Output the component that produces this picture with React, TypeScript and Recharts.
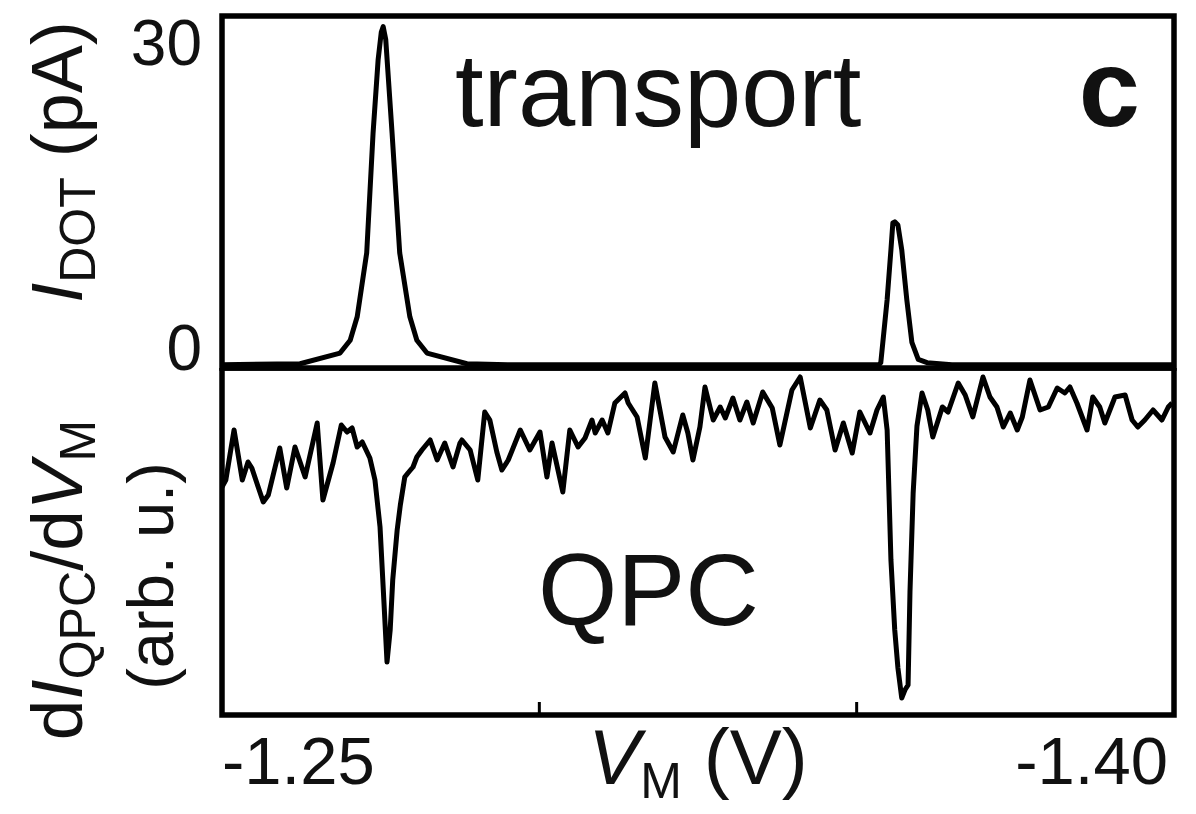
import { LineChart, Line, XAxis, YAxis, ReferenceArea } from 'recharts';

// gate voltage V_M (V), shared by both panels
const vDomain: [number, number] = [-1.4, -1.25];
const vTicks = [-1.25, -1.3, -1.35, -1.4];
const vTickLabels: Record<string, string> = { '-1.25': '-1.25', '-1.4': '-1.40' };

// top panel: dot current (pA)
const iDomain: [number, number] = [-0.3, 32.7];
const iTicks = [0, 30];

const vDot = [
  -1.25, -1.2623, -1.2686, -1.2702, -1.2713, -1.2728, -1.2738, -1.2746, -1.2751, -1.2754,
  -1.2758, -1.2768, -1.278, -1.2796, -1.2807, -1.2823, -1.2886, -1.295, -1.35, -1.3535,
  -1.3538, -1.3548, -1.3554, -1.3557, -1.356, -1.3565, -1.3571, -1.3579, -1.3587, -1.3597,
  -1.3611, -1.365, -1.4,
];
const iDot = [
  0, 0.1, 1.1, 2.3, 4.5, 10.5, 21.7, 28.6, 31.2, 31.7,
  30.5, 21.7, 10.5, 4.5, 2.3, 1.1, 0.1, 0, 0, 0,
  0.2, 6.1, 10.8, 13.3, 13.4, 13.1, 10.8, 6.1, 2.1, 0.5,
  0.2, 0, 0,
];

// bottom panel: dI_QPC/dV_M (arb. u.)
const gDomain: [number, number] = [0, 34.7];

const vQpc = [
  -1.25, -1.2506, -1.2519, -1.2532, -1.2541, -1.2547, -1.2557, -1.2565, -1.2573, -1.2591,
  -1.2602, -1.2615, -1.2631, -1.265, -1.2659, -1.2675, -1.2688, -1.2697, -1.2705, -1.2713,
  -1.2721, -1.2733, -1.2741, -1.2749, -1.2755, -1.276, -1.2765, -1.2769, -1.2776, -1.2781,
  -1.2788, -1.2793, -1.2801, -1.2807, -1.2815, -1.2828, -1.2839, -1.2851, -1.2864, -1.2875,
  -1.2878, -1.2891, -1.2903, -1.2914, -1.2922, -1.2933, -1.2941, -1.2951, -1.297, -1.2985,
  -1.3001, -1.3012, -1.302, -1.3037, -1.3048, -1.3061, -1.3072, -1.3083, -1.3088, -1.3099,
  -1.3108, -1.3119, -1.3135, -1.314, -1.3154, -1.3167, -1.3182, -1.319, -1.3198, -1.3211,
  -1.3226, -1.3234, -1.3242, -1.3253, -1.3261, -1.3274, -1.3285, -1.3293, -1.3305, -1.3316,
  -1.3327, -1.3337, -1.3352, -1.3367, -1.3379, -1.3398, -1.3411, -1.3427, -1.3442, -1.3453,
  -1.3466, -1.3479, -1.3493, -1.3505, -1.3521, -1.3532, -1.3542, -1.3548, -1.3554, -1.356,
  -1.3565, -1.3571, -1.3576, -1.3581, -1.3584, -1.3589, -1.3595, -1.3603, -1.3612, -1.362,
  -1.3635, -1.3644, -1.366, -1.3671, -1.3683, -1.3699, -1.371, -1.3721, -1.3731, -1.3742,
  -1.3753, -1.3761, -1.3773, -1.3789, -1.3802, -1.3816, -1.3828, -1.3836, -1.3847, -1.3863,
  -1.3872, -1.3883, -1.3891, -1.3907, -1.3923, -1.3934, -1.3943, -1.3954, -1.3967, -1.3981,
  -1.3991, -1.3997,
];
const gQpc = [
  22.8, 23.5, 28.5, 23.5, 25.3, 24.7, 22.8, 21.3, 22.0, 26.7,
  22.7, 26.8, 23.8, 29.2, 21.5, 25.2, 29.0, 28.3, 28.7, 26.8,
  27.3, 25.7, 23.5, 18.8, 11.5, 5.3, 8.5, 13.5, 18.5, 21.0,
  23.8, 24.2, 24.8, 25.8, 26.5, 27.5, 25.5, 27.2, 24.8, 27.2,
  27.5, 26.5, 23.5, 30.3, 29.5, 26.3, 24.5, 25.5, 28.5, 26.5,
  28.3, 23.8, 27.2, 22.3, 28.5, 26.8, 27.7, 29.5, 28.2, 29.5,
  28.2, 31.2, 32.2, 31.2, 29.8, 25.7, 33.2, 30.5, 27.8, 26.3,
  30.0, 28.2, 25.5, 28.8, 32.8, 29.5, 30.8, 29.7, 31.7, 29.5,
  31.3, 29.2, 32.3, 30.7, 27.0, 32.5, 33.8, 28.7, 31.5, 30.5,
  26.5, 29.2, 26.2, 30.3, 28.2, 30.5, 31.8, 28.5, 15.5, 8.5,
  4.7, 1.7, 2.5, 3.0, 12.3, 22.2, 28.9, 32.2, 30.5, 27.8,
  30.8, 30.3, 33.2, 32.0, 29.8, 33.8, 31.8, 30.8, 28.8, 30.2,
  28.5, 29.8, 33.5, 30.5, 30.8, 32.7, 32.2, 32.8, 31.2, 28.5,
  31.8, 30.8, 29.2, 31.8, 32.0, 29.5, 28.8, 29.5, 30.5, 29.5,
  30.8, 31.2,
];

const dotData = vDot.map((v, k) => ({ v, i: iDot[k] }));
const qpcData = vQpc.map((v, k) => ({ v, g: gQpc[k] }));

const FONT = '"Liberation Sans", Arial, Helvetica, sans-serif';
const INK = '#111';

const ITick = ({ x, y, payload }: any) => (
  <text x={x} y={payload.value === 30 ? y + 20 : y + 5} textAnchor="end"
    fontSize={64} fill={INK} fontFamily={FONT}>
    {payload.value}
  </text>
);

const VTick = ({ x, y, payload }: any) => {
  const label = vTickLabels[String(payload.value)];
  if (!label) return null;
  const start = payload.value === -1.25;
  return (
    <text x={start ? x : x - 6} y={y + 82} textAnchor={start ? 'start' : 'end'}
      fontSize={67} fill={INK} fontFamily={FONT}>
      {label}
    </text>
  );
};

const dotTitle = () => (
  <text transform="translate(82,162) rotate(-90)" textAnchor="middle"
    fontSize={72} fill={INK} fontFamily={FONT}>
    <tspan fontStyle="italic">I</tspan>
    <tspan fontSize={50} dy={13}>DOT</tspan>
    <tspan dy={-13}>{'\u00a0(pA)'}</tspan>
  </text>
);

const qpcTitle = () => (
  <g fill={INK} fontFamily={FONT}>
    <text transform="translate(82,212) rotate(-90)" textAnchor="middle" fontSize={73}>
      <tspan>d</tspan>
      <tspan fontStyle="italic">I</tspan>
      <tspan fontSize={50} dy={13}>QPC</tspan>
      <tspan dy={-13}>/d</tspan>
      <tspan fontStyle="italic">V</tspan>
      <tspan fontSize={50} dy={13}>M</tspan>
    </text>
    <text transform="translate(173,208) rotate(-90)" textAnchor="middle" fontSize={65}>
      (arb. u.)
    </text>
  </g>
);

const vTitle = ({ viewBox }: any) => {
  const cx = viewBox.x + viewBox.width / 2;
  return (
    <text x={cx} y={416} textAnchor="middle" fontSize={78} fill={INK} fontFamily={FONT}>
      <tspan fontStyle="italic">V</tspan>
      <tspan fontSize={50} dy={14}>M</tspan>
      <tspan dy={-14}>{'\u00a0(V)'}</tspan>
    </text>
  );
};

const topNotes = () => (
  <g fill={INK} fontFamily={FONT}>
    <text x={455} y={126} fontSize={103}>transport</text>
    <text x={1140} y={126} fontSize={110} fontWeight="bold" textAnchor="end">c</text>
  </g>
);

const bottomNotes = () => (
  <text x={538} y={257} fontSize={102} fill={INK} fontFamily={FONT}>QPC</text>
);

export default function App() {
  return (
    <div style={{ position: 'absolute', left: 0, top: 0, width: 1196, height: 814, background: '#fff' }}>
      {/* QPC panel */}
      <div style={{ position: 'absolute', left: 0, top: 368 }}>
        <LineChart width={1196} height={446} data={qpcData}
          margin={{ top: 0, right: 22, bottom: 0, left: 221 }}>
          <XAxis type="number" dataKey="v" domain={vDomain} reversed allowDataOverflow
            ticks={vTicks} interval={0} height={99} axisLine={false}
            tickLine={{ stroke: '#000', strokeWidth: 3 }} tickSize={-13} tickMargin={0}
            tick={VTick} label={vTitle} />
          <YAxis type="number" domain={gDomain} width={1} axisLine={false}
            tickLine={false} tick={false} label={qpcTitle} />
          <ReferenceArea x1={vDomain[0]} x2={vDomain[1]} y1={gDomain[0]} y2={gDomain[1]}
            fill="none" fillOpacity={0} stroke="#000" strokeWidth={5.5} label={bottomNotes} />
          <Line type="linear" dataKey="g" stroke="#000" strokeWidth={5} dot={false}
            strokeLinejoin="round" isAnimationActive={false} />
        </LineChart>
      </div>

      {/* transport panel, drawn last so its labels sit on top */}
      <div style={{ position: 'absolute', left: 0, top: 0 }}>
        <LineChart width={1196} height={390} data={dotData}
          margin={{ top: 16, right: 22, bottom: 22, left: 221 }}>
          <XAxis type="number" dataKey="v" domain={vDomain} reversed hide allowDataOverflow />
          <YAxis type="number" domain={iDomain} ticks={iTicks} width={1}
            axisLine={false} tickLine={false} tickSize={0} tickMargin={20}
            tick={ITick} label={dotTitle} />
          <ReferenceArea x1={vDomain[0]} x2={vDomain[1]} y1={iDomain[0]} y2={iDomain[1]}
            fill="none" fillOpacity={0} stroke="#000" strokeWidth={5.5} label={topNotes} />
          <Line type="linear" dataKey="i" stroke="#000" strokeWidth={5} dot={false}
            strokeLinejoin="round" isAnimationActive={false} />
        </LineChart>
      </div>
    </div>
  );
}
